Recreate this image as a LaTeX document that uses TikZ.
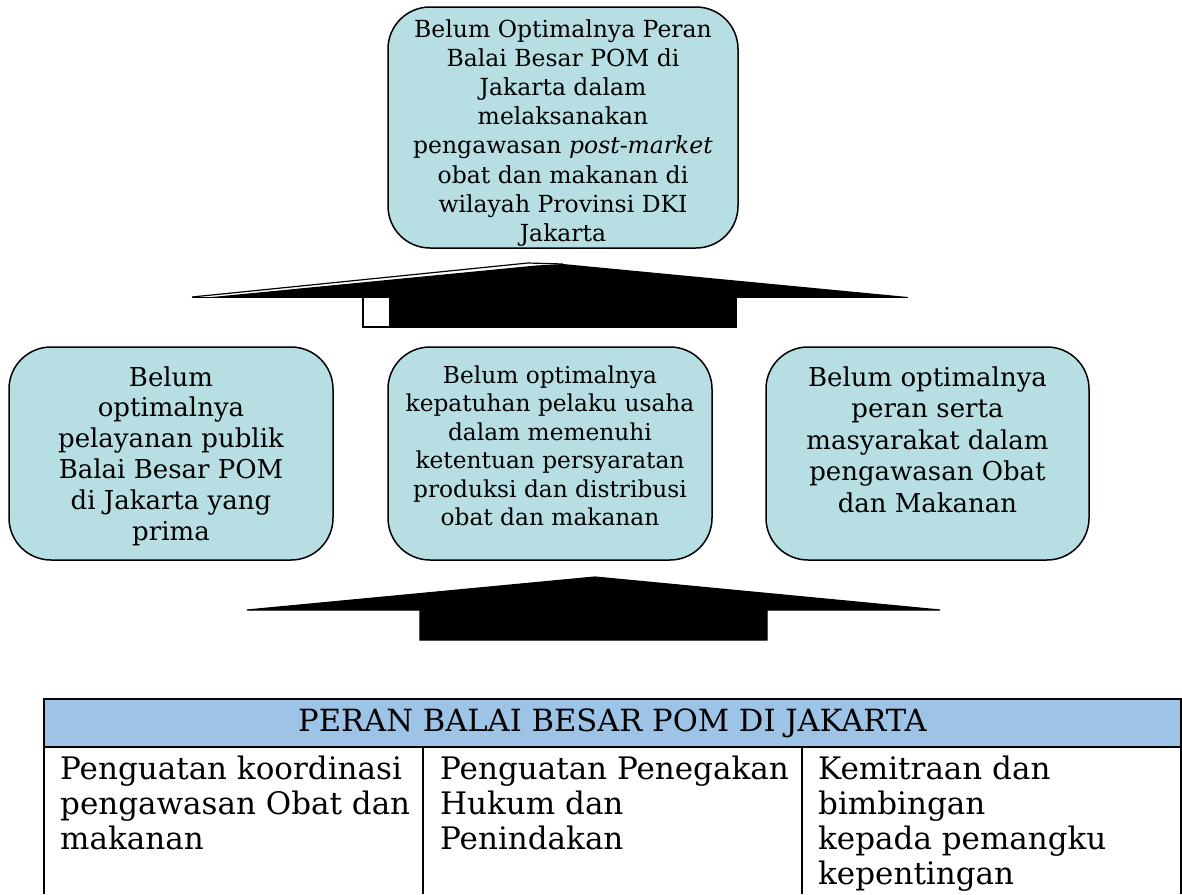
\documentclass[tikz,border=0pt]{standalone}
\usepackage{fontspec}
\setmainfont{DejaVu Serif}
\definecolor{boxfill}{RGB}{183,222,227}
\definecolor{hdrfill}{RGB}{157,195,230}
\newcommand\clines[2]{\vtop{\baselineskip=#1pt\lineskiplimit=-100pt\lineskip=0pt\halign{\hfil##\hfil\cr#2\crcr}}}
\newcommand\llines[2]{\vtop{\baselineskip=#1pt\lineskiplimit=-100pt\lineskip=0pt\halign{##\hfil\cr#2\crcr}}}
\tikzset{
  probbox/.style={draw=black, line width=1.5pt, fill=boxfill, rounded corners=42pt, inner sep=0pt},
  boxtext/.style={anchor=base, inner sep=0pt},
  celltext/.style={anchor=base west, inner sep=0pt, font=\fontsize{31}{35}\selectfont},
  blockarrow/.style={fill=black, draw=black, line width=1.2pt, line join=miter},
  tableline/.style={draw=black, line width=2pt},
  colline/.style={draw=black, line width=1.5pt}
}
\begin{document}
\begin{tikzpicture}[x=1pt,y=-1pt]
\useasboundingbox (0,0) rectangle (1182,894);
% top problem box
\node[probbox, minimum width=350pt, minimum height=241pt] (top) at (563,127.5) {};
\node[boxtext, font=\fontsize{23.5}{29}\selectfont] (toptext) at (563,37)
  {\clines{29.2}{Belum Optimalnya Peran\cr Balai Besar POM di\cr Jakarta dalam\cr melaksanakan\cr pengawasan \textit{post-market}\cr obat dan makanan di\cr wilayah Provinsi DKI\cr Jakarta}};
% upper block arrow
\coordinate (ua1) at (192,297);
\coordinate (ua2) at (528,263);
\coordinate (ua3) at (563,264);
\draw[line width=1.2pt] (ua1) -- (ua2) -- (ua3);
\fill[black] (212,297) -- (536,265.5) -- (ua3) -- (908,297) -- cycle;
\draw[line width=1pt] (ua1) -- (908,297);
\fill[black] (390,297) rectangle (737,327);
\draw[line width=1.2pt, fill=white] (363,297.5) rectangle (390,327);
\draw[line width=1.2pt] (390,327) -- (737,327);
% middle row boxes
\node[probbox, minimum width=324pt, minimum height=213pt] (left) at (171,453.5) {};
\node[probbox, minimum width=324pt, minimum height=213pt] (mid) at (550,453.5) {};
\node[probbox, minimum width=323pt, minimum height=213pt] (right) at (927.5,453.5) {};
\node[boxtext, font=\fontsize{26}{31}\selectfont] (lefttext) at (171,386)
  {\clines{30.8}{Belum\cr optimalnya\cr pelayanan publik\cr Balai Besar POM\cr di Jakarta yang\cr prima}};
\node[boxtext, font=\fontsize{23.3}{28}\selectfont] (midtext) at (550,383)
  {\clines{28.5}{Belum optimalnya\cr kepatuhan pelaku usaha\cr dalam memenuhi\cr ketentuan persyaratan\cr produksi dan distribusi\cr obat dan makanan}};
\node[boxtext, font=\fontsize{26}{31}\selectfont] (righttext) at (927.5,386)
  {\clines{31.5}{Belum optimalnya\cr peran serta\cr masyarakat dalam\cr pengawasan Obat\cr dan Makanan}};
% lower block arrow
\filldraw[blockarrow] (247,610) -- (595,577) -- (940,610) -- (767,610) -- (767,640) -- (420,640) -- (420,610) -- cycle;
% table
\node[fill=hdrfill, minimum width=1137pt, minimum height=48pt, inner sep=0pt, anchor=north west] (hdr) at (44,699) {};
\node[anchor=base, inner sep=0pt, font=\fontsize{30.6}{35}\selectfont] (hdrtext) at (612.5,731) {PERAN BALAI BESAR POM DI JAKARTA};
\draw[tableline] (44,894) -- (44,699) -- (1181,699) -- (1181,894);
\draw[tableline] (44,747) -- (1181,747);
\draw[colline] (423,747) -- (423,894);
\draw[colline] (802,747) -- (802,894);
\node[celltext] (c1) at (60,779) {\llines{35}{Penguatan koordinasi\cr pengawasan Obat dan\cr makanan}};
\node[celltext] (c2) at (440,779) {\llines{35}{Penguatan Penegakan\cr Hukum dan\cr Penindakan}};
\node[celltext] (c3) at (818,779) {\llines{35}{Kemitraan dan\cr bimbingan\cr kepada pemangku\cr kepentingan}};
\end{tikzpicture}
\end{document}
